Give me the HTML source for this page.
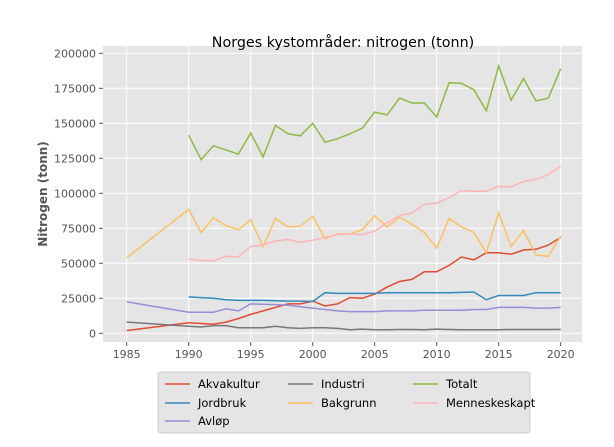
<!DOCTYPE html>
<html><head><meta charset="utf-8"><style>
body{margin:0;background:#fff;font-family:"Liberation Sans","DejaVu Sans",sans-serif;}
svg text{font-family:"DejaVu Sans","Liberation Sans",sans-serif;}
</style></head><body>
<svg id="c" width="614" height="442" xmlns="http://www.w3.org/2000/svg"></svg>
<script>
const years = [1985,1990,1991,1992,1993,1994,1995,1996,1997,1998,1999,2000,2001,2002,2003,2004,2005,2006,2007,2008,2009,2010,2011,2012,2013,2014,2015,2016,2017,2018,2019,2020];
const akvakultur = [2000,7500,7000,6500,8000,10500,13500,16000,18500,21000,21000,23000,19500,21000,25500,25000,28000,33000,37000,38500,44000,44000,48500,54500,52500,57500,57500,56500,59500,60000,63000,68500];
const jordbruk = [null,26000,25500,25000,24000,23500,23500,23500,23200,23000,23000,22700,29000,28500,28500,28500,28500,29000,29000,29000,29000,29000,29000,29200,29500,24000,27000,27000,27000,29000,29000,29000];
const avlop = [22500,15000,15000,15000,17500,16000,21000,20700,20500,20000,19000,18000,17000,16000,15500,15500,15500,16000,16000,16000,16500,16500,16500,16500,17000,17000,18500,18500,18500,18000,18000,18500];
const industri = [8000,5000,4500,5500,5500,4000,4000,4000,5000,4000,3500,4000,4000,3500,2500,3000,2500,2500,2700,2700,2500,3000,2700,2500,2500,2500,2500,2700,2700,2700,2700,2800];
const bakgrunn = [54000,88500,72000,82500,77000,74000,81000,62000,82000,76000,76500,83500,67500,71000,71000,74000,84000,76000,83000,78000,72000,61000,82000,76000,72000,57500,86000,62000,73500,56000,55000,69500];
const totalt = [null,141500,124000,134000,131000,128000,143000,126000,148500,142500,141000,150000,136500,139000,142500,146500,158000,156000,168000,164500,164500,154500,179000,178500,174000,159000,191000,166500,182000,166000,168000,189000];
const menneskeskapt = [null,53000,52000,51800,55000,54500,62000,63000,66000,67000,65000,66500,68500,70500,71000,70500,73000,79000,84000,86000,92000,93000,97000,102000,101500,101500,105000,104500,108500,110000,113500,119500];
const yTicks = [0,25000,50000,75000,100000,125000,150000,175000,200000];
const xTicks = [1985,1990,1995,2000,2005,2010,2015,2020];
const seriesNames = ["Akvakultur","Jordbruk","Avløp","Industri","Bakgrunn","Totalt","Menneskeskapt"];

const NS="http://www.w3.org/2000/svg", svg=document.getElementById('c');
const X0=103,X1=582,Y0=46,Y1=342;
const x=v=>126.7+(v-1985)*12.4;
const y=v=>333.3-v/25000*35;
function mk(t,a,p){const e=document.createElementNS(NS,t);for(const k in a)e.setAttribute(k,a[k]);(p||svg).appendChild(e);return e;}
const bg=mk('rect',{x:X0,y:Y0,width:X1-X0,height:Y1-Y0,fill:'#e5e5e5'});


yTicks.forEach(t=>{
  const l=mk('line',{x1:X0,x2:X1,y1:y(t),y2:y(t),stroke:'#fff','stroke-width':1});
  
  
  mk('line',{x1:X0-4,x2:X0,y1:y(t),y2:y(t),stroke:'#555'});
  const tx=mk('text',{x:X0-7,y:y(t)+4,'text-anchor':'end','font-size':11,fill:'#555'});
  tx.textContent=t;
  
  
});
xTicks.forEach(t=>{
  const l=mk('line',{y1:Y0,y2:Y1,x1:x(t),x2:x(t),stroke:'#fff','stroke-width':1});
  
  
  mk('line',{y1:Y1,y2:Y1+4,x1:x(t),x2:x(t),stroke:'#555'});
  const tx=mk('text',{x:x(t),y:Y1+16,'text-anchor':'middle','font-size':11,fill:'#555'});
  tx.textContent=t;
  
  
});
const colors=['#e24a33','#348abd','#988ed5','#777777','#fbc15e','#8eba42','#ffb5b8'];
const data=[akvakultur,jordbruk,avlop,industri,bakgrunn,totalt,menneskeskapt];
data.forEach((s,i)=>{
  let d='';let pen=false;
  s.forEach((v,j)=>{if(v==null){pen=false;return;}d+=(pen?'L':'M')+x(years[j]).toFixed(1)+','+y(v).toFixed(1);pen=true;});
  const p=mk('path',{d:d,fill:'none',stroke:colors[i],'stroke-width':1.5});
  
  
});
const title=mk('text',{x:343,y:47,'text-anchor':'middle','font-size':14.3,fill:'#000'});
title.textContent='Norges kystområder: nitrogen (tonn)';


const yt=mk('text',{x:0,y:0,'text-anchor':'middle','font-size':12,'font-weight':'bold',fill:'#555',transform:'translate(47,194) rotate(-90)'});
yt.textContent='Nitrogen (tonn)';


const lg=mk('rect',{x:158,y:372,width:372,height:61,rx:3,fill:'#e5e5e5',stroke:'#ccc'});


const cols=[165,288,413],rows=[384,403,421];
const slots=[[0,0],[0,1],[0,2],[1,0],[1,1],[2,0],[2,1]];
seriesNames.forEach((n,i)=>{
  const c=slots[i][0],r=slots[i][1];
  const g=mk('g',{});
  
  
  mk('line',{x1:cols[c],x2:cols[c]+25,y1:rows[r],y2:rows[r],stroke:colors[i],'stroke-width':1.5},g);
  const t=mk('text',{x:cols[c]+33,y:rows[r]+4,'font-size':11.5,fill:'#000'},g);
  t.textContent=n;
});
</script>
</body></html>
